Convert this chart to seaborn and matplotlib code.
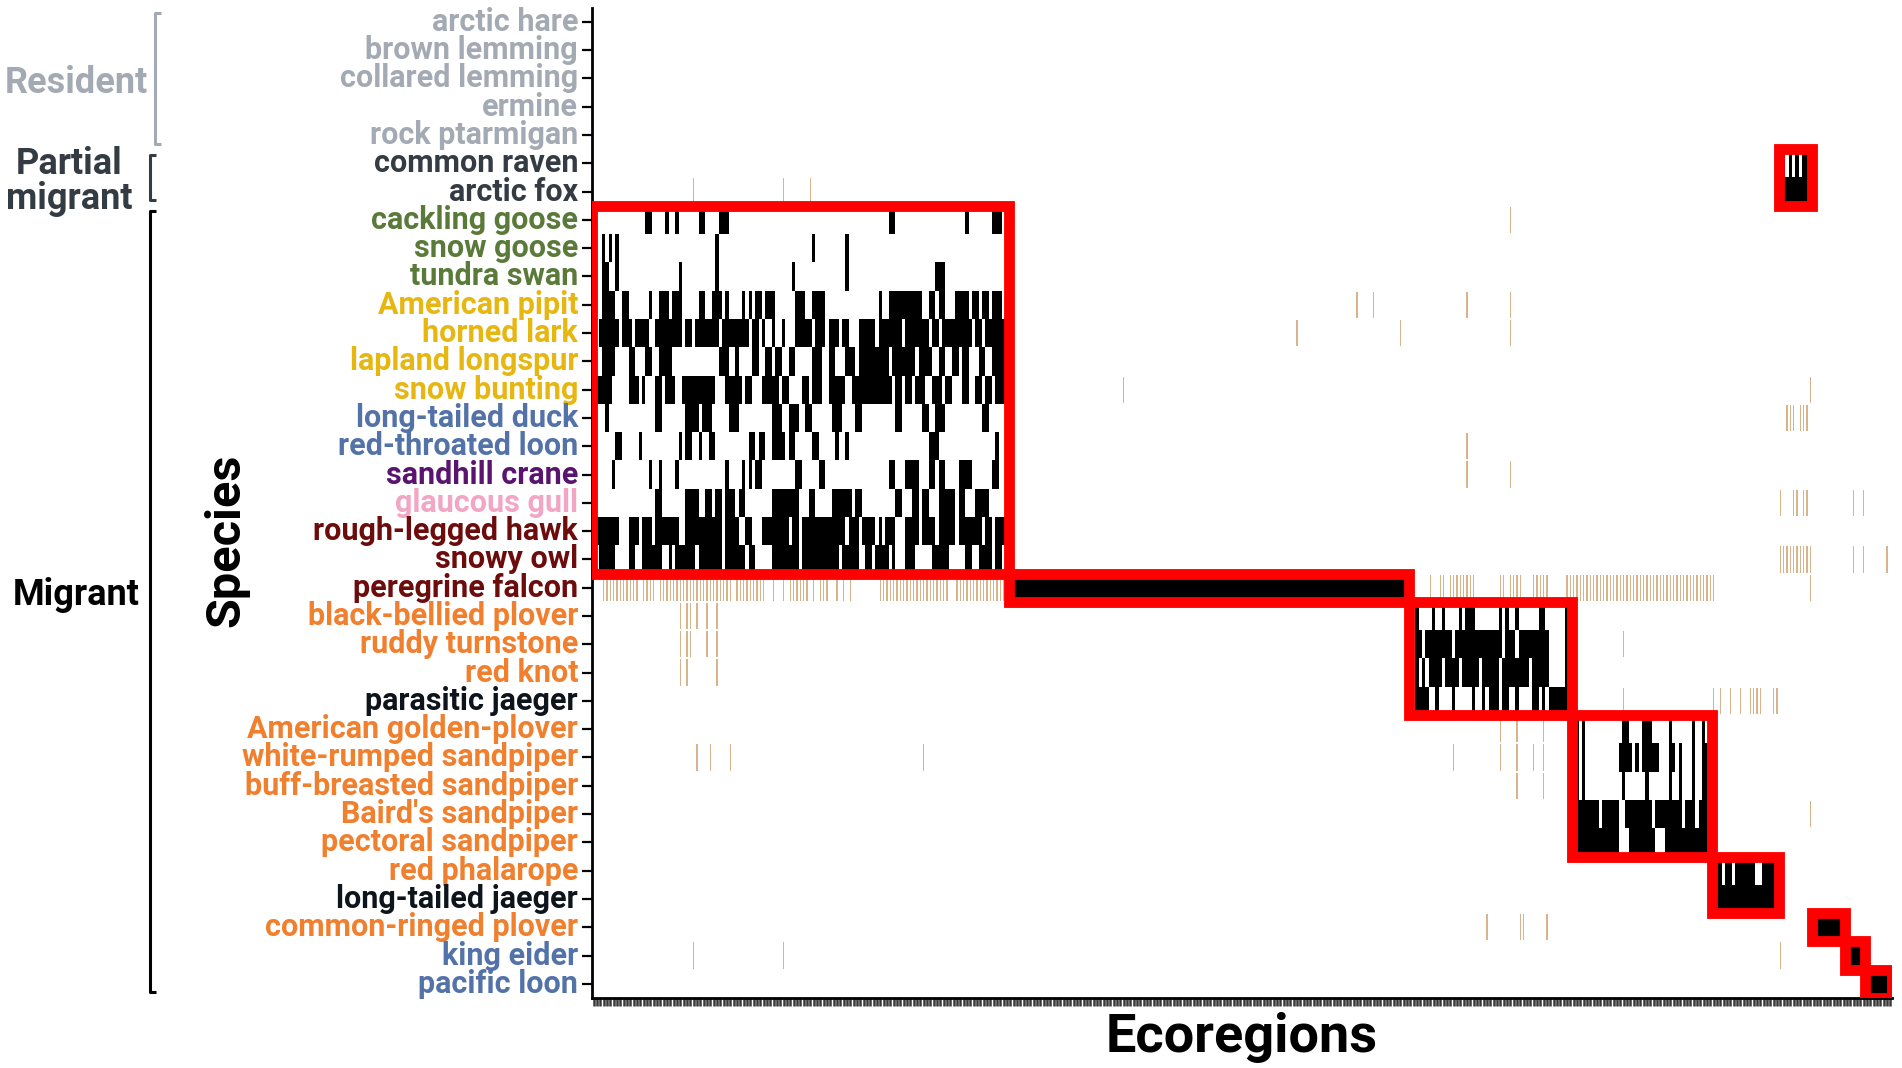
import numpy as np
import pandas as pd
import matplotlib
matplotlib.use("Agg")
import matplotlib.pyplot as plt
from matplotlib.colors import ListedColormap
from matplotlib.patches import Rectangle
from matplotlib.lines import Line2D
from matplotlib.transforms import blended_transform_factory
import seaborn as sns

# ---- data ---------------------------------------------------------------
species = [
    "arctic hare", "brown lemming", "collared lemming", "ermine", "rock ptarmigan",
    "common raven", "arctic fox",
    "cackling goose", "snow goose", "tundra swan", "American pipit", "horned lark",
    "lapland longspur", "snow bunting", "long-tailed duck", "red-throated loon",
    "sandhill crane", "glaucous gull", "rough-legged hawk", "snowy owl",
    "peregrine falcon", "black-bellied plover", "ruddy turnstone", "red knot",
    "parasitic jaeger", "American golden-plover", "white-rumped sandpiper",
    "buff-breasted sandpiper", "Baird's sandpiper", "pectoral sandpiper",
    "red phalarope", "long-tailed jaeger", "common-ringed plover", "king eider",
    "pacific loon",
]

GRAY, SLATE, GREEN, GOLD = "#a4aab3", "#353b43", "#5a7a3a", "#e6b712"
BLUE, PURPLE, PINK, DARKRED = "#5373a8", "#5a1470", "#f2a6c4", "#6c0c0c"
ORANGE, INK = "#f07f2e", "#0e141c"
label_colors = (
    [GRAY] * 5 + [SLATE] * 2 + [GREEN] * 3 + [GOLD] * 4 + [BLUE] * 2
    + [PURPLE, PINK, DARKRED, DARKRED, DARKRED] + [ORANGE] * 3 + [INK]
    + [ORANGE] * 6 + [INK, ORANGE, BLUE, BLUE]
)

groups = ["Resident", "Partial\nmigrant", "Migrant"]
group_rows = [(0, 4), (5, 6), (7, 34)]
group_colors = [GRAY, SLATE, "#000000"]

n_ecoregions = 390

# modules: species rows and ecoregion columns (inclusive)
module_rows = [(7, 19), (20, 20), (21, 24), (25, 29), (30, 31), (5, 6), (32, 32), (33, 33), (34, 34)]
module_cols = [(0, 124), (125, 244), (245, 293), (294, 335), (336, 355), (356, 365), (366, 375), (376, 381), (382, 389)]

# ecoregions where each species occurs (column runs)
presence_runs = [
    "", "", "", "", "",
    "356-357 359 361 363-365",
    "30 57 65 356-365",
    "16-17 22 25 32-33 38-40 89-90 112 120-122 275",
    "3 5 7 37 66 76",
    "3-4 7 26 37 60 76 103-105",
    "3-6 9-10 17 20-22 24-26 32-33 36-38 40 45 47 49-50 52-54 61-63 66-69 86 89-98 "
    "101-102 104-105 109-112 114-115 117-118 120-122 229 234 262 275",
    "2-7 9-11 13-16 19-26 28-29 31-37 39-46 48-49 51 54 57 61-65 67-69 71-73 75-76 "
    "80-84 86-92 94-100 102-103 105-113 115-116 118-123 211 242 275",
    "3-6 11-12 16-17 20-23 38-40 43 48-49 52-53 55-56 59-60 66-68 71-72 76-78 80-88 "
    "90-96 98-101 104-105 108-109 111-112 116-117 120-123",
    "1-5 11-13 15 19-20 22-24 27-36 40-44 46-47 51-55 57-58 63-64 66-68 71-75 78-89 "
    "91-92 94-95 97-99 102-104 106-107 111-112 115-116 118-119 121-123 159 365",
    "4 19-20 28-31 33-35 41-43 54-56 59-61 64-65 72-74 79-80 91-92 99-100 103-105 "
    "117-118 358-360 362-364",
    "7-8 14 26 28-29 32 35-36 47-48 50-51 54-57 59-60 66-67 73 76 101-103 121 262",
    "6 17 20 25 40 45 47 49-50 61-62 68-69 89-90 94-97 101-102 104-105 110-113 "
    "120-121 262 275",
    "19-20 28-31 34-35 37-38 40-42 44-45 54-61 65-66 72-77 79-80 91-92 96-97 99-100 "
    "104-108 110-111 115-118 356 360-361 363-364 378 381",
    "1-7 11-13 15-17 19-25 28-38 40-43 46-47 51-58 60-61 63-75 77-79 81-84 86 88-90 "
    "94-97 99-102 104-108 110-116 118-119 121-123",
    "2-6 11-12 15-20 23 25-30 32-38 40-45 47-48 54-61 63-73 75-79 82-83 85-88 90 "
    "94-96 102-106 112-113 116-119 121-122 356-365 378 381 388",
    "3-13 15-18 20-41 43-51 54 57 59-64 66 68-70 73 75 77 86-106 109-123 125-244 "
    "251 254-255 257-264 272-273 275-278 282-286 292-336 365",
    "26 28-29 31 34 37 247 252 255 260 262-264 272 274 277 284-285 292",
    "26 28-29 34 37 247-248 250-257 259-272 274-276 278-286 292 309",
    "26 28 37 247 249 251-254 256-259 261-265 267-271 273-280 282-286 292",
    "247-250 253 258 264 267 269-271 273-274 277 282-283 285 287-292 309 336 338 "
    "341 344 347-350 354-355",
    "272 277 285 295 297 309-310 315-317 323 330 333",
    "31 35 41 99 258 272 277 282 285 295 297 308-311 313 315-319 323-324 326 330 333-334",
    "277 285 295 297 309 316 323 326 330 333-334",
    "295-301 303-307 310-317 319-326 328-330 332-334 365",
    "295-307 311-318 322-334",
    "337-338 340-341 343-348 351-354",
    "337-354",
    "268 278-279 286 367-375",
    "30 57 356 377-381",
    "383-389",
]


def parse_runs(text):
    cols = []
    for part in text.split():
        if "-" in part:
            a, b = part.split("-")
            cols.extend(range(int(a), int(b) + 1))
        else:
            cols.append(int(part))
    return cols


occ = np.zeros((len(species), n_ecoregions), dtype=int)
for i, runs in enumerate(presence_runs):
    occ[i, parse_runs(runs)] = 1

# 0 absent, 1 present outside own module, 2 present inside own module
state = occ.copy()
for (r0, r1), (c0, c1) in zip(module_rows, module_cols):
    block = occ[r0:r1 + 1, c0:c1 + 1]
    state[r0:r1 + 1, c0:c1 + 1] = np.where(block == 1, 2, 0)

df = pd.DataFrame(state, index=species, columns=range(n_ecoregions))

# ---- plot ---------------------------------------------------------------
sns.set_theme(style="white")
plt.rcParams["font.family"] = ["Roboto", "DejaVu Sans"]

W, H = 1902, 1068
fig = plt.figure(figsize=(W / 100, H / 100), dpi=100)
ax = fig.add_axes([592 / W, 1 - 998 / H, 1300 / W, 990.3 / H])

# layer 1: all cells, thin white cell borders (separates the tan bars)
sns.heatmap(
    df, ax=ax, cbar=False,
    cmap=ListedColormap(["#ffffff", "#d9b48b", "#000000"]), vmin=-0.5, vmax=2.5,
    linewidths=0.2, linecolor="white",
    xticklabels=False, yticklabels=species,
)
# layer 2: within-module occurrences as solid black blocks
sns.heatmap(
    df, ax=ax, cbar=False, mask=(df != 2),
    cmap=ListedColormap(["#000000"]), linewidths=0,
    xticklabels=False, yticklabels=species,
)

for (r0, r1), (c0, c1) in zip(module_rows, module_cols):
    ax.add_patch(Rectangle((c0, r0), c1 - c0 + 1, r1 - r0 + 1, fill=False,
                           edgecolor="#ff0000", linewidth=7.8, zorder=5))

ax.set_xticks(np.arange(n_ecoregions) + 0.5)
ax.set_xticklabels([])
ax.tick_params(axis="x", bottom=True, length=5.8, width=1.8, color="#3b3b3b")
ax.tick_params(axis="y", left=True, length=7, width=1.6, color="black", pad=3,
               labelsize=22, rotation=0)
for lab, col in zip(ax.get_yticklabels(), label_colors):
    lab.set_color(col)
    lab.set_fontweight("bold")

for side in ["left", "bottom"]:
    ax.spines[side].set_visible(True)
    ax.spines[side].set_color("black")
    ax.spines[side].set_linewidth(2)

ax.set_xlabel("Ecoregions", fontsize=39, fontweight="bold", color="black")
ax.xaxis.set_label_coords(0.5, -0.0395)
ax.xaxis.label.set_va("center")
ax.set_ylabel("Species", fontsize=35, fontweight="bold", color="black")
ax.yaxis.set_label_coords(-0.281, 0.4625)
ax.yaxis.label.set_va("center")

# group brackets and labels
trans = blended_transform_factory(fig.transFigure, ax.transData)
bracket_x = [155, 150, 150]
label_x = [76, 69, 76]
label_y = [2.65, 6.15, 20.75]
for name, (r0, r1), col, bx, lx, ly in zip(groups, group_rows, group_colors,
                                           bracket_x, label_x, label_y):
    y0, y1 = r0 + 0.2, r1 + 0.8
    x0, x1 = bx / W, (bx + 6) / W
    fig.add_artist(Line2D([x1, x0, x0, x1], [y0, y0, y1, y1], transform=trans,
                          color=col, linewidth=2.2, solid_capstyle="butt"))
    fig.text(lx / W, ly, name, transform=trans, ha="center",
             va="center", fontsize=26, fontweight="bold", color=col,
             linespacing=0.95)

fig.savefig("out.png", dpi=100)
